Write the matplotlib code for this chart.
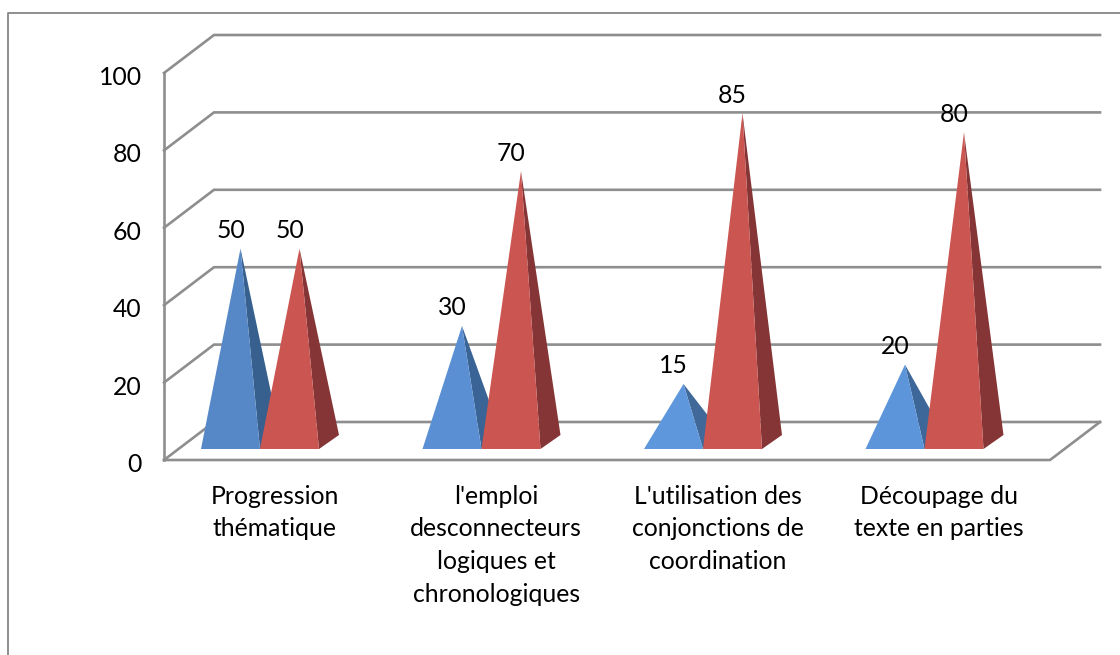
import matplotlib
matplotlib.use("Agg")
import matplotlib.pyplot as plt
from matplotlib.lines import Line2D
from matplotlib.patches import Polygon
from matplotlib.transforms import ScaledTranslation

plt.rcParams['font.family'] = ['Lato', 'DejaVu Sans']

categories = ["Progression\nthématique",
              "l'emploi\ndesconnecteurs\nlogiques et\nchronologiques",
              "L'utilisation des\nconjonctions de\ncoordination",
              "Découpage du\ntexte en parties"]
blue_values = [50, 30, 15, 20]
red_values = [50, 70, 85, 80]
y_ticks = [0, 20, 40, 60, 80, 100]
blue_fronts = ['#5688C8', '#5A8FD3', '#5E97DC', '#5C95DA']
blue_sides = ['#37608F', '#3A6495', '#40699A', '#3E6799']

W, H = 1120, 655
FS = 17.8
fig = plt.figure(figsize=(W / 100, H / 100), dpi=100)
L, R, T, B = 164, 1050, 73, 460
ax = fig.add_axes([L / W, 1 - B / H, (R - L) / W, (B - T) / H])
ax.set_xlim(0, len(categories))
ax.set_ylim(0, 100)
ax.patch.set_visible(False)
for s in ax.spines.values():
    s.set_visible(False)

px = len(categories) / (R - L)   # data units per pixel, x
py = 100 / (B - T)               # data units per pixel, y
wall_dx, wall_dy = 50 * px, 38 * py
GRID = '#8e8e8e'
LW = 1.9

# walls and floor
for v in y_ticks:
    ax.plot([0, wall_dx, len(categories) + wall_dx], [v, v + wall_dy, v + wall_dy],
            color=GRID, lw=LW, clip_on=False, zorder=1, solid_joinstyle='miter')
ax.plot([0, 0], [0, 100], color=GRID, lw=LW, clip_on=False, zorder=1)
ax.plot([0, len(categories), len(categories) + wall_dx], [0, 0, wall_dy],
        color=GRID, lw=LW, clip_on=False, zorder=1)

# pyramids
bar_w = 59 * px
depth_dx, depth_dy = 20 * px, 14 * py
base_y = 11 * py
group_shift = 96 * px


def pyramid(x0, value, front, side, z):
    x1 = x0 + bar_w
    apex = (x0 + bar_w / 2 + depth_dx / 2, value + base_y + depth_dy / 2)
    ax.add_patch(Polygon([(x1, base_y), (x1 + depth_dx, base_y + depth_dy), apex],
                         closed=True, fc=side, ec='none', clip_on=False, zorder=z))
    ax.add_patch(Polygon([(x0, base_y), (x1, base_y), apex],
                         closed=True, fc=front, ec='none', clip_on=False, zorder=z + 0.1))
    ax.text(x0 + bar_w / 2, apex[1] + 18 * py, str(value), ha='center', va='center',
            fontsize=FS, color='black', zorder=5, clip_on=False)


for i, (b, r) in enumerate(zip(blue_values, red_values)):
    centre = i + group_shift
    pyramid(centre - bar_w, b, blue_fronts[i], blue_sides[i], 2)
    pyramid(centre, r, '#CB5550', '#853535', 3)

ax.set_xticks([i + 0.5 for i in range(len(categories))])
ax.set_xticklabels(categories, fontsize=FS, linespacing=1.5, color='black')
ax.set_yticks(y_ticks)
ax.set_yticklabels([str(v) for v in y_ticks], fontsize=FS, color='black')
ax.tick_params(axis='x', length=0, pad=18)
ax.tick_params(axis='y', length=0, pad=16)
down = ScaledTranslation(0, -2.5 / 100, fig.dpi_scale_trans)
for lab in ax.get_yticklabels():
    lab.set_transform(lab.get_transform() + down)

# outer chart frame, clipped by the picture on the right and bottom
frame_x = [8 / W, 8 / W, 1]
frame_y = [0, 1 - 13 / H, 1 - 13 / H]
fig.add_artist(Line2D(frame_x, frame_y, transform=fig.transFigure, color='#868686', lw=1.3))

fig.savefig('out.png', dpi=100, facecolor='white')
